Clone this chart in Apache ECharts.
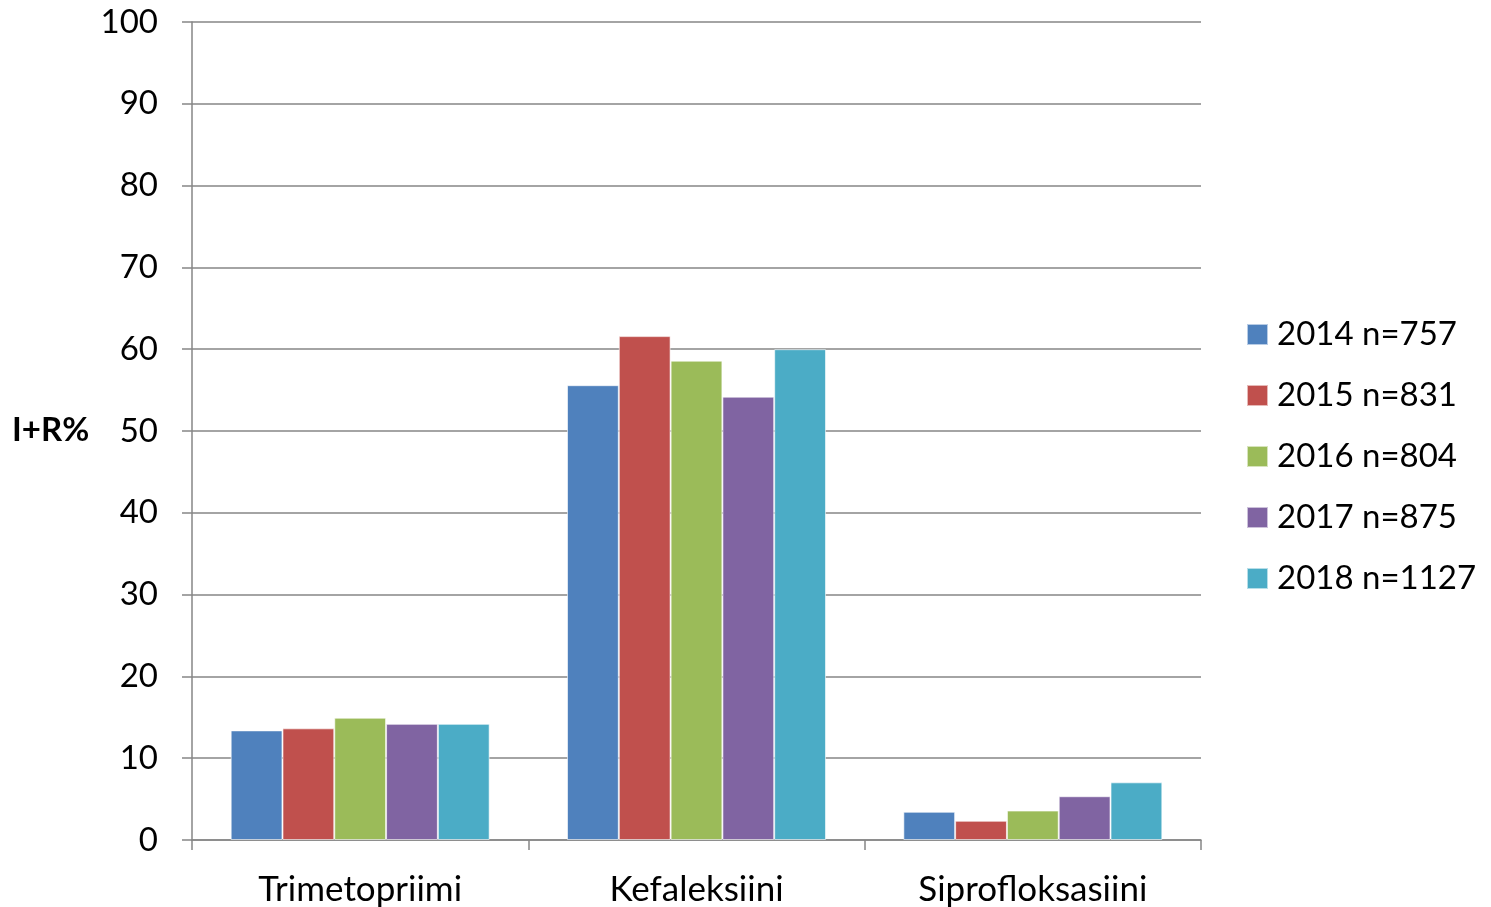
<!DOCTYPE html>
<html><head><meta charset="utf-8">
<script src="https://cdn.jsdelivr.net/npm/echarts@6/dist/echarts.min.js"></script>
<style>html,body{margin:0;padding:0;background:#fff}#c{width:1491px;height:907px}</style>
</head><body><div id="c"></div>
<script>
const categories = ['Trimetopriimi', 'Kefaleksiini', 'Siprofloksasiini'];
const seriesNames = ['2014 n=757', '2015 n=831', '2016 n=804', '2017 n=875', '2018 n=1127'];
const s2014 = [13.4, 55.6, 3.45];
const s2015 = [13.65, 61.6, 2.35];
const s2016 = [14.95, 58.6, 3.6];
const s2017 = [14.2, 54.2, 5.35];
const s2018 = [14.2, 60.0, 7.05];
const yTicks = [0, 10, 20, 30, 40, 50, 60, 70, 80, 90, 100];
const colors = ['#4F81BD', '#C0504D', '#9BBB59', '#8064A2', '#4BACC6'];
const values = [s2014, s2015, s2016, s2017, s2018];
const FONT = 'Lato';
const chart = echarts.init(document.getElementById('c'));
chart.setOption({
  animation: false,
  textStyle: { fontFamily: FONT },
  grid: { left: 192, right: 290, top: 22, bottom: 67, containLabel: false },
  legend: {
    orient: 'vertical', left: 1246, top: 318, padding: 0, itemWidth: 21, itemHeight: 21, itemGap: 28,
    icon: 'rect', data: seriesNames,
    textStyle: { fontSize: 33, color: '#000', fontFamily: FONT, padding: [0, 0, 0, 4] }
  },
  xAxis: {
    type: 'category', data: categories,
    axisLine: { lineStyle: { color: '#868686', width: 1.5 } },
    axisTick: { show: true, length: 10, alignWithLabel: false, lineStyle: { color: '#868686', width: 1.5 } },
    axisLabel: { fontSize: 35, color: '#000', margin: 32, fontFamily: FONT }
  },
  yAxis: {
    type: 'value', min: yTicks[0], max: yTicks[yTicks.length - 1], interval: 10,
    axisLine: { show: true, lineStyle: { color: '#868686', width: 1.5 } },
    axisTick: { show: true, length: 10, lineStyle: { color: '#868686', width: 1.5 } },
    splitLine: { lineStyle: { color: '#868686', width: 1.5 } },
    axisLabel: { fontSize: 33, color: '#000', margin: 34, fontFamily: FONT }
  },
  graphic: [{
    type: 'text', left: 12, top: 414,
    style: { text: 'I+R%', fontSize: 33, fontWeight: 'bold', fill: '#000', fontFamily: FONT }
  }],
  series: seriesNames.map((n, i) => ({
    name: n, type: 'bar', data: values[i], barGap: '0%', barCategoryGap: '23%',
    itemStyle: { color: colors[i], borderColor: 'rgba(255,255,255,0.6)', borderWidth: 1 }
  }))
});
</script></body></html>
